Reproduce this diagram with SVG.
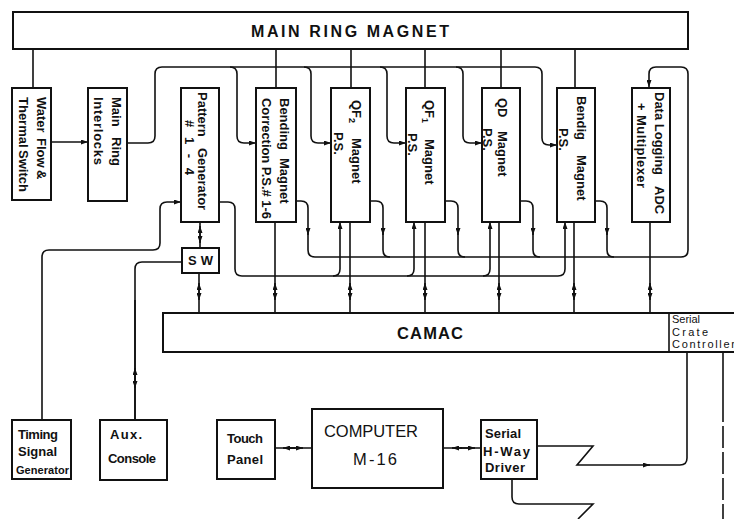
<svg xmlns="http://www.w3.org/2000/svg" width="734" height="519" viewBox="0 0 734 519">
<style>
.box{fill:#fff;stroke:#111;stroke-width:2}
.ln{fill:none;stroke:#111;stroke-width:1.6}
.ar{marker-end:url(#ah)}
.t{font-family:"Liberation Sans",Arial,sans-serif;font-weight:bold;font-size:13px;fill:#111}
.n{font-weight:normal}
</style>
<defs>
<marker id="ah" viewBox="0 0 7 5" refX="7" refY="2.5" markerWidth="7" markerHeight="5" orient="auto" markerUnits="userSpaceOnUse"><path d="M0,0 L7,2.5 L0,5 Z" fill="#111"/></marker>
</defs>
<rect width="734" height="519" fill="#fff"/>

<g id="connectors">
<path class="ln" d="M33,49 V88 M276,49 V88 M351,49 V88 M425,49 V88 M501,49 V88 M575,49 V88"/>
<path class="ln ar" d="M51,142 H88"/>
<path class="ln ar" d="M127,143 H148 Q155,143 155,136 V74 Q155,67 162,67 H535 Q542,67 542,74 V138 Q542,145 549,145 H557"/>
<path class="ln ar" d="M230,67 Q237,67 237,74 V136 Q237,143 244,143 H256"/>
<path class="ln ar" d="M304,67 Q311,67 311,74 V136 Q311,143 318,143 H331"/>
<path class="ln ar" d="M380,67 Q387,67 387,74 V136 Q387,143 394,143 H406"/>
<path class="ln ar" d="M456,67 Q463,67 463,74 V136 Q463,143 470,143 H482"/>
<path class="ln ar" d="M42,420 V257 Q42,250 49,250 H153 Q160,250 160,243 V209 Q160,202 167,202 H181"/>
<path class="ln" d="M135,420 V269 Q135,262 142,262 H182"/>
<path class="ln ar" d="M135,420 V368"/>
<path class="ln ar" d="M135,300 V388"/>
<path class="ln ar" d="M200,248 V226"/>
<path class="ln ar" d="M200,222 V243"/>
<path class="ln ar" d="M199,313 V283"/>
<path class="ln ar" d="M199,273 V300"/>
<path class="ln ar" d="M275,313 V283"/><path class="ln ar" d="M275,222 V300"/>
<path class="ln ar" d="M350,313 V283"/><path class="ln ar" d="M350,222 V300"/>
<path class="ln ar" d="M425,313 V283"/><path class="ln ar" d="M425,222 V300"/>
<path class="ln ar" d="M499,313 V283"/><path class="ln ar" d="M499,222 V300"/>
<path class="ln ar" d="M574,313 V283"/><path class="ln ar" d="M574,222 V300"/>
<path class="ln ar" d="M650,313 V283"/><path class="ln ar" d="M650,222 V300"/>
<path class="ln ar" d="M219,202 H228 Q235,202 235,209 V269 Q235,276 242,276 H558 Q565,276 565,269 V222"/>
<path class="ln ar" d="M333,276 Q340,276 340,269 V222"/>
<path class="ln ar" d="M407,276 Q414,276 414,269 V222"/>
<path class="ln ar" d="M483,276 Q490,276 490,269 V222"/>
<path class="ln ar" d="M296,201 H301 Q308,201 308,208 V235"/>
<path class="ln ar" d="M370,201 H376 Q383,201 383,208 V235"/>
<path class="ln ar" d="M445,201 H451 Q458,201 458,208 V235"/>
<path class="ln ar" d="M520,201 H526 Q533,201 533,208 V235"/>
<path class="ln ar" d="M595,201 H600 Q607,201 607,208 V235"/>
<path class="ln ar" d="M308,230 V250 Q308,257 315,257 H681 Q688,257 688,250 V74 Q688,67 681,67 H656 Q649,67 649,74 V87"/>
<path class="ln" d="M383,230 V250 Q383,257 390,257 M458,230 V250 Q458,257 465,257 M533,230 V250 Q533,257 540,257 M607,230 V250 Q607,257 614,257"/>
<path class="ln" d="M275,448 H312"/>
<path class="ln ar" d="M295,448 H283"/>
<path class="ln ar" d="M290,448 H303"/>
<path class="ln" d="M443,448 H481"/>
<path class="ln ar" d="M462,448 H452"/>
<path class="ln ar" d="M460,448 H475"/>
<path class="ln ar" d="M537,446 H593 L577,465 H650"/>
<path class="ln" d="M645,465 H680 Q687,465 687,458 V352"/>
<path class="ln" d="M512,479 V497 Q512,504 519,504 H593 L578,519"/>
<path class="ln" d="M723,352 V400"/>
<path class="ln" d="M723,400 V519" stroke-dasharray="22 4"/>
</g>

<g id="main-ring-magnet">
<rect class="box" x="13" y="12" width="675" height="37"/>
<text class="t" x="251" y="37" style="font-size:16px" textLength="198" lengthAdjust="spacing">MAIN RING MAGNET</text>
</g>

<g id="water-flow">
<rect class="box" x="12" y="88" width="39" height="112"/>
<text class="t" transform="translate(37,0) rotate(90)"><tspan x="97">Water</tspan><tspan x="138">Flow</tspan><tspan x="170">&amp;</tspan></text>
<text class="t" transform="translate(19,0) rotate(90)"><tspan x="97">Thermal</tspan><tspan x="150">Switch</tspan></text>
</g>

<g id="main-ring-interlocks">
<rect class="box" x="88" y="88" width="39" height="113"/>
<text class="t" transform="translate(112,0) rotate(90)"><tspan x="97">Main</tspan><tspan x="137">Ring</tspan></text>
<text class="t" transform="translate(94,0) rotate(90)" x="97" textLength="68">Interlocks</text>
</g>

<g id="pattern-generator">
<rect class="box" x="181" y="88" width="38" height="134"/>
<text class="t" transform="translate(198,0) rotate(90)"><tspan x="92">Pattern</tspan><tspan x="148">Generator</tspan></text>
<text class="t" transform="translate(185,0) rotate(90)" x="120" textLength="55">#  1 - 4</text>
</g>

<g id="sw">
<rect class="box" x="182" y="248" width="37" height="25"/>
<text class="t" x="188" y="265" textLength="25">S W</text>
</g>

<g id="bending-correction">
<rect class="box" x="256" y="88" width="40" height="134"/>
<text class="t" transform="translate(280,0) rotate(90)"><tspan x="98">Bending</tspan><tspan x="158">Magnet</tspan></text>
<text class="t" transform="translate(262,0) rotate(90)" x="98" textLength="121">Correction P.S.# 1-6</text>
</g>

<g id="qf2">
<rect class="box" x="331" y="88" width="39" height="134"/>
<text class="t" transform="translate(352,0) rotate(90)"><tspan x="100">QF</tspan><tspan style="font-size:9px" dy="3">2</tspan><tspan x="138" dy="-3">Magnet</tspan></text>
<text class="t" transform="translate(334,0) rotate(90)" x="132">P.S.</text>
</g>

<g id="qf1">
<rect class="box" x="406" y="88" width="39" height="134"/>
<text class="t" transform="translate(425,0) rotate(90)"><tspan x="100">QF</tspan><tspan style="font-size:9px" dy="3">1</tspan><tspan x="139" dy="-3">Magnet</tspan></text>
<text class="t" transform="translate(408,0) rotate(90)" x="133">P.S.</text>
</g>

<g id="qd">
<rect class="box" x="482" y="88" width="38" height="134"/>
<text class="t" transform="translate(498,0) rotate(90)"><tspan x="98">QD</tspan><tspan x="131">Magnet</tspan></text>
<text class="t" transform="translate(483,0) rotate(90)" x="128">P.S.</text>
</g>

<g id="bendig-magnet">
<rect class="box" x="557" y="88" width="38" height="134"/>
<text class="t" transform="translate(577,0) rotate(90)"><tspan x="96">Bendig</tspan><tspan x="155">Magnet</tspan></text>
<text class="t" transform="translate(559,0) rotate(90)" x="128">P.S.</text>
</g>

<g id="data-logging">
<rect class="box" x="632" y="88" width="38" height="134"/>
<text class="t" transform="translate(655,0) rotate(90)"><tspan x="92">Data Logging</tspan><tspan x="186">ADC</tspan></text>
<text class="t" transform="translate(637,0) rotate(90)" x="103" textLength="85">+ Multiplexer</text>
</g>

<g id="camac">
<path d="M734,313 H163 V352 H734" fill="#fff" stroke="#111" stroke-width="2"/>
<path d="M669,313 V352" stroke="#111" stroke-width="1.6"/>
<text class="t" x="397" y="339" style="font-size:16.5px" textLength="66" lengthAdjust="spacing">CAMAC</text>
<text class="t n" x="672" y="323" style="font-size:11px" textLength="28" lengthAdjust="spacing">Serial</text>
<text class="t n" x="672" y="335.5" style="font-size:11px" textLength="36" lengthAdjust="spacing">Crate</text>
<text class="t n" x="672" y="348" style="font-size:11px" textLength="63" lengthAdjust="spacing">Controller</text>
</g>

<g id="timing-signal-generator">
<rect class="box" x="12" y="420" width="59" height="59"/>
<text class="t" x="18" y="439" textLength="40">Timing</text>
<text class="t" x="18" y="456" textLength="39">Signal</text>
<text class="t" x="16" y="474" style="font-size:11px" textLength="53">Generator</text>
</g>

<g id="aux-console">
<rect class="box" x="100" y="420" width="67" height="60"/>
<text class="t" x="110" y="439" textLength="32" lengthAdjust="spacing">Aux.</text>
<text class="t" x="108" y="463" textLength="48">Console</text>
</g>

<g id="touch-panel">
<rect class="box" x="217" y="420" width="58" height="59"/>
<text class="t" x="227" y="443" textLength="36">Touch</text>
<text class="t" x="227" y="464" textLength="36">Panel</text>
</g>

<g id="computer">
<rect class="box" x="312" y="409" width="131" height="79"/>
<text class="t n" x="324" y="437" style="font-size:16.5px" textLength="94" lengthAdjust="spacing">COMPUTER</text>
<text class="t n" x="353" y="465" style="font-size:16.5px" textLength="44" lengthAdjust="spacing">M-16</text>
</g>

<g id="serial-h-way-driver">
<rect class="box" x="481" y="420" width="56" height="59"/>
<text class="t" x="485" y="438" textLength="36">Serial</text>
<text class="t" x="483" y="456" textLength="47" lengthAdjust="spacing">H-Way</text>
<text class="t" x="485" y="472" textLength="40">Driver</text>
</g>
</svg>
